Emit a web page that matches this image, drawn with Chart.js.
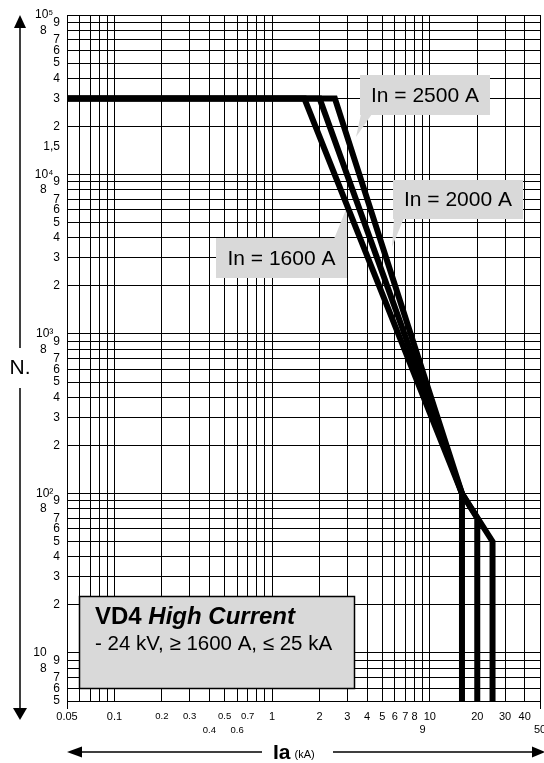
<!DOCTYPE html>
<html>
<head>
<meta charset="utf-8">
<title>VD4 High Current</title>
<script src="https://cdn.jsdelivr.net/npm/chart.js@4.4.1/dist/chart.umd.min.js"></script>
<style>
  html, body { margin: 0; padding: 0; background: #fff; }
  #wrap { width: 544px; height: 763px; }
</style>
</head>
<body>
<div id="wrap"><canvas id="curve" width="544" height="763"></canvas></div>
<script>
// curves: current (kA) vs number of operations
const seriesNames = ["In = 1600 A", "In = 2000 A", "In = 2500 A"];
const current1600 = [0.05, 1.6, 16, 16];
const ops1600 = [30000, 30000, 100, 5];
const current2000 = [0.05, 2, 16, 20, 20];
const ops2000 = [30000, 30000, 100, 70, 5];
const current2500 = [0.05, 2.5, 16, 25, 25];
const ops2500 = [30000, 30000, 100, 50, 5];

// grid / tick values
const xTicks = [0.05, 0.06, 0.07, 0.08, 0.09, 0.1, 0.2, 0.3, 0.4, 0.5, 0.6, 0.7, 0.8, 0.9,
  1, 2, 3, 4, 5, 6, 7, 8, 9, 10, 20, 30, 40, 50];
const xTickLabels = ["0.05", "", "", "", "", "0.1", "0.2", "0.3", "0.4", "0.5", "0.6", "0.7", "", "",
  "1", "2", "3", "4", "5", "6", "7", "8", "9", "10", "20", "30", "40", "50"];
const xLowerRow = ["0.4", "0.6", "9", "50"];
const xSmallLabels = ["0.2", "0.3", "0.4", "0.5", "0.6", "0.7"];

const yTicks = [5, 6, 7, 8, 9, 10, 20, 30, 40, 50, 60, 70, 80, 90,
  100, 200, 300, 400, 500, 600, 700, 800, 900,
  1000, 2000, 3000, 4000, 5000, 6000, 7000, 8000, 9000,
  10000, 15000, 20000, 30000, 40000, 50000, 60000, 70000, 80000, 90000, 100000];
const yTickLabels = ["5", "6", "7", "8", "9", "10", "2", "3", "4", "5", "6", "7", "8", "9",
  "10²", "2", "3", "4", "5", "6", "7", "8", "9",
  "10³", "2", "3", "4", "5", "6", "7", "8", "9",
  "10⁴", "1,5", "2", "3", "4", "5", "6", "7", "8", "9", "10⁵"];
const yNoGrid = [15000];

const FONT = '"Liberation Sans", Arial, Helvetica, sans-serif';
const BOX_GRAY = "#d9d9d9";

const callouts = [
  { text: seriesNames[2], x: 360, y: 75, w: 130, h: 40, tail: [[361, 114], [372, 114], [356, 137]] },
  { text: seriesNames[1], x: 393, y: 180, w: 130, h: 39, tail: [[394, 218], [404, 218], [392, 247]] },
  { text: seriesNames[0], x: 216, y: 238, w: 131, h: 40, tail: [[334, 239], [347, 239], [347, 207]] }
];

function toPoints(xs, ys) {
  return xs.map((x, i) => ({ x: x, y: ys[i] }));
}

function curve(label, xs, ys) {
  return {
    label: label,
    data: toPoints(xs, ys),
    borderColor: "#000",
    borderWidth: 6,
    borderJoinStyle: "miter",
    borderCapStyle: "butt",
    pointRadius: 0,
    tension: 0,
    fill: false
  };
}

function arrowHead(ctx, tip, b1, b2) {
  ctx.beginPath();
  ctx.moveTo(tip[0], tip[1]);
  ctx.lineTo(b1[0], b1[1]);
  ctx.lineTo(b2[0], b2[1]);
  ctx.closePath();
  ctx.fill();
}

const decorations = {
  id: "decorations",
  beforeDatasetsDraw(chart) {
    const ctx = chart.ctx;
    ctx.save();
    ctx.fillStyle = BOX_GRAY;
    callouts.forEach((b) => {
      ctx.fillRect(b.x, b.y, b.w, b.h);
      ctx.beginPath();
      b.tail.forEach((p, i) => (i ? ctx.lineTo(p[0], p[1]) : ctx.moveTo(p[0], p[1])));
      ctx.closePath();
      ctx.fill();
    });
    ctx.fillStyle = "#000";
    ctx.font = "21px " + FONT;
    ctx.textAlign = "center";
    ctx.textBaseline = "middle";
    callouts.forEach((b) => ctx.fillText(b.text, b.x + b.w / 2, b.y + b.h / 2 + 1));

    // VD4 title box
    ctx.fillStyle = BOX_GRAY;
    ctx.fillRect(79.5, 596.5, 275, 92);
    ctx.strokeStyle = "#000";
    ctx.lineWidth = 1.5;
    ctx.strokeRect(79.5, 596.5, 275, 92);
    ctx.fillStyle = "#000";
    ctx.textAlign = "left";
    ctx.textBaseline = "alphabetic";
    ctx.font = "bold 24px " + FONT;
    ctx.fillText("VD4", 95, 624);
    const w = ctx.measureText("VD4 ").width;
    ctx.font = "italic bold 24px " + FONT;
    ctx.fillText("High Current", 95 + w, 624);
    ctx.font = "20.5px " + FONT;
    ctx.fillText("- 24 kV, ≥ 1600 A, ≤ 25 kA", 95, 650);
    ctx.restore();
  },
  afterDraw(chart) {
    const ctx = chart.ctx;
    ctx.save();
    ctx.strokeStyle = "#000";
    ctx.fillStyle = "#000";
    ctx.lineWidth = 1.5;
    // vertical N. arrow
    ctx.beginPath();
    ctx.moveTo(20, 27); ctx.lineTo(20, 348);
    ctx.moveTo(20, 388); ctx.lineTo(20, 709);
    ctx.stroke();
    arrowHead(ctx, [20, 15], [14, 28], [26, 28]);
    arrowHead(ctx, [20, 720], [13, 708], [27, 708]);
    ctx.font = "21px " + FONT;
    ctx.textAlign = "center";
    ctx.textBaseline = "middle";
    ctx.fillText("N.", 20, 368);
    // horizontal Ia arrow
    ctx.beginPath();
    ctx.moveTo(81, 752); ctx.lineTo(262, 752);
    ctx.moveTo(333, 752); ctx.lineTo(534, 752);
    ctx.stroke();
    arrowHead(ctx, [67, 752], [82, 746.5], [82, 757.5]);
    arrowHead(ctx, [545, 752], [532, 746.5], [532, 757.5]);
    ctx.textAlign = "left";
    ctx.textBaseline = "alphabetic";
    ctx.font = "bold 21px " + FONT;
    ctx.fillText("Ia", 273, 759);
    const w = ctx.measureText("Ia").width;
    ctx.font = "11px " + FONT;
    ctx.fillText("(kA)", 273 + w + 4, 758);
    ctx.restore();
  }
};

Chart.defaults.font.family = FONT;
Chart.defaults.color = "#000";

new Chart(document.getElementById("curve"), {
  type: "line",
  data: {
    datasets: [
      curve(seriesNames[0], current1600, ops1600),
      curve(seriesNames[1], current2000, ops2000),
      curve(seriesNames[2], current2500, ops2500)
    ]
  },
  options: {
    responsive: false,
    animation: false,
    devicePixelRatio: 1,
    layout: { padding: { left: 0, right: 4, top: 15, bottom: 0 } },
    plugins: {
      legend: { display: false },
      tooltip: { enabled: false }
    },
    scales: {
      x: {
        type: "logarithmic",
        min: 0.05,
        max: 50,
        afterBuildTicks: (axis) => { axis.ticks = xTicks.map((v) => ({ value: v })); },
        afterFit: (axis) => { axis.height = 62; axis.paddingLeft = 0; axis.paddingRight = 0; },
        grid: {
          color: "#000",
          lineWidth: 1,
          drawTicks: true,
          tickLength: 8,
          tickColor: (c) => (c.tick && (c.tick.value === 0.05 || c.tick.value === 50) ? "#000" : "rgba(0,0,0,0)")
        },
        border: { display: true, color: "#000", width: 1 },
        ticks: {
          autoSkip: false,
          maxRotation: 0,
          padding: 1,
          font: (c) => {
            const lab = c.tick ? xTickLabels[xTicks.indexOf(c.tick.value)] : "";
            return xSmallLabels.includes(lab) ? { size: 9.5, lineHeight: 1.4 } : { size: 11, lineHeight: 1.2 };
          },
          callback: (value) => {
            const lab = xTickLabels[xTicks.indexOf(value)] || "";
            return xLowerRow.includes(lab) ? ["", lab] : lab;
          }
        }
      },
      y: {
        type: "logarithmic",
        min: 5,
        max: 100000,
        afterBuildTicks: (axis) => { axis.ticks = yTicks.map((v) => ({ value: v })); },
        afterFit: (axis) => { axis.width = 67; axis.paddingTop = 0; axis.paddingBottom = 0; },
        grid: {
          color: (c) => (c.tick && yNoGrid.includes(c.tick.value) ? "rgba(0,0,0,0)" : "#000"),
          lineWidth: 1,
          drawTicks: false
        },
        border: { display: true, color: "#000", width: 1 },
        ticks: {
          autoSkip: false,
          padding: 7,
          font: { size: 12 },
          callback: (value) => {
            const lab = yTickLabels[yTicks.indexOf(value)] || "";
            if (lab === "8" || lab === "10") return lab + "    ";
            if (lab.length > 2 && lab.startsWith("10")) return lab + "  ";
            return lab;
          }
        }
      }
    }
  },
  plugins: [decorations]
});
</script>
</body>
</html>
